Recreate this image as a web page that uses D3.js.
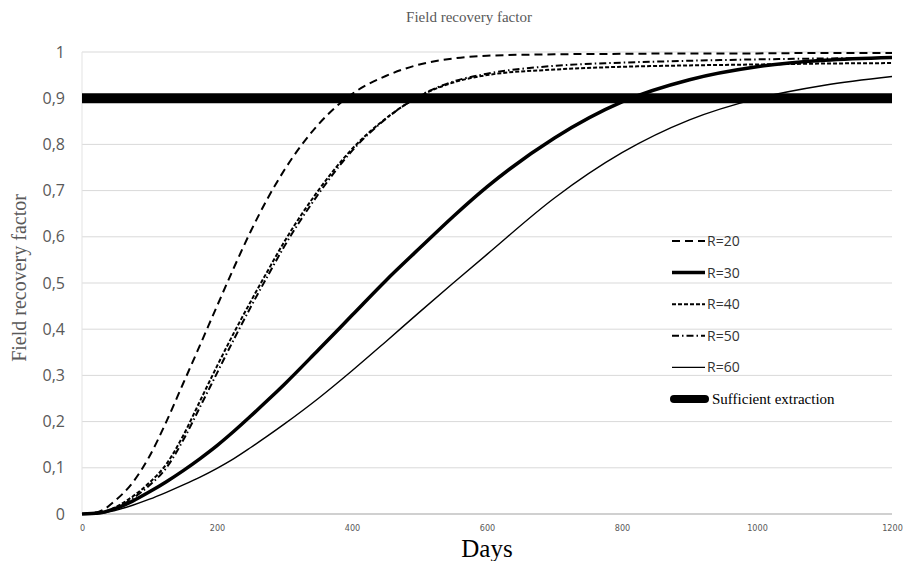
<!DOCTYPE html>
<meta charset="utf-8">
<style>
body { margin: 0; background: #fff; }
.grid line { stroke: #d9d9d9; stroke-width: 1; }
.tick text { fill: #595959; }
.curve { fill: none; stroke: #000; }
</style>
<body>
<svg width="904" height="561"></svg>
<script src="https://d3js.org/d3.v7.min.js"></script>
<script>
// values
var days = [0, 25, 50, 75, 100, 125, 150, 175, 200, 225, 250, 275, 300, 350, 400, 450, 500, 550, 600, 700, 800, 900, 1000, 1100, 1200];
var r20 = [0, 0.005, 0.03, 0.068, 0.125, 0.2, 0.283, 0.366, 0.45, 0.533, 0.612, 0.683, 0.745, 0.843, 0.909, 0.948, 0.973, 0.986, 0.992, 0.995, 0.996, 0.997, 0.997, 0.998, 0.998];
var r30 = [0, 0.002, 0.012, 0.028, 0.048, 0.07, 0.094, 0.12, 0.148, 0.179, 0.212, 0.246, 0.281, 0.355, 0.43, 0.505, 0.575, 0.644, 0.708, 0.814, 0.892, 0.94, 0.968, 0.982, 0.988];
var r40 = [0, 0.002, 0.015, 0.038, 0.068, 0.108, 0.17, 0.245, 0.32, 0.392, 0.46, 0.526, 0.59, 0.7, 0.79, 0.856, 0.904, 0.934, 0.95, 0.962, 0.968, 0.971, 0.973, 0.975, 0.976];
var r50 = [0, 0.002, 0.013, 0.034, 0.062, 0.1, 0.16, 0.232, 0.305, 0.378, 0.448, 0.515, 0.58, 0.692, 0.786, 0.855, 0.905, 0.936, 0.953, 0.97, 0.977, 0.981, 0.984, 0.986, 0.987];
var r60 = [0, 0.001, 0.008, 0.019, 0.032, 0.047, 0.063, 0.08, 0.099, 0.12, 0.144, 0.169, 0.195, 0.25, 0.31, 0.373, 0.437, 0.5, 0.562, 0.684, 0.782, 0.853, 0.899, 0.928, 0.947];
var threshold = 0.9;
var seriesNames = ["R=20", "R=30", "R=40", "R=50", "R=60"];
var yTicks = [0, 0.1, 0.2, 0.3, 0.4, 0.5, 0.6, 0.7, 0.8, 0.9, 1];
var xTicks = [0, 200, 400, 600, 800, 1000, 1200];

var styles = {
  "R=20": {w: 2, dash: "8,5"},
  "R=30": {w: 3.5, dash: null},
  "R=40": {w: 2, dash: "4,2"},
  "R=50": {w: 2, dash: "7,3,1.5,3"},
  "R=60": {w: 1.4, dash: null}
};

var svg = d3.select("svg"),
    margin = {top: 52, right: 12, bottom: 47, left: 82},
    width = 892 - margin.left,
    height = 514 - margin.top,
    g = svg.append("g").attr("transform", "translate(" + margin.left + "," + margin.top + ")");

var x = d3.scaleLinear().domain([0, 1200]).range([0, width]),
    y = d3.scaleLinear().domain([0, 1]).range([height, 0]);

var series = [r20, r30, r40, r50, r60].map(function(vals, i) {
  return {id: seriesNames[i], values: days.map(function(d, j) { return {day: d, v: vals[j]}; })};
});

// gridlines
g.append("g").attr("class", "grid")
  .selectAll("line").data(yTicks.slice(1)).enter().append("line")
    .attr("x1", 0).attr("x2", width)
    .attr("y1", function(d) { return y(d); }).attr("y2", function(d) { return y(d); });

g.append("line").attr("x1", 0).attr("x2", 0).attr("y1", 0).attr("y2", height)
  .attr("stroke", "#e3e3e3");
g.append("line").attr("x1", 0).attr("x2", width).attr("y1", height).attr("y2", height)
  .attr("stroke", "#d0d0d0").attr("stroke-width", 2);

// axes
var yAxis = g.append("g")
    .call(d3.axisLeft(y).tickValues(yTicks).tickSize(0).tickPadding(17)
      .tickFormat(function(d) { return d3.format(".1~f")(d).replace(".", ","); }));
yAxis.select(".domain").remove();
yAxis.selectAll("text").style("font", "16px 'Open Sans', sans-serif").attr("fill", "#595959");

var xAxis = g.append("g").attr("transform", "translate(0," + height + ")")
    .call(d3.axisBottom(x).tickValues(xTicks).tickSize(0).tickPadding(11).tickFormat(d3.format("d")));
xAxis.select(".domain").remove();
xAxis.selectAll("text").style("font", "9px 'DejaVu Sans Condensed', sans-serif").attr("fill", "#595959");

var line = d3.line()
    .curve(d3.curveMonotoneX)
    .x(function(d) { return x(d.day); })
    .y(function(d) { return y(d.v); });

g.selectAll(".curve").data(series).enter().append("path")
    .attr("class", "curve")
    .attr("d", function(d) { return line(d.values); })
    .attr("stroke-width", function(d) { return styles[d.id].w; })
    .attr("stroke-dasharray", function(d) { return styles[d.id].dash; });

// sufficient extraction
g.append("line")
    .attr("x1", x(0)).attr("x2", x(1200))
    .attr("y1", y(threshold)).attr("y2", y(threshold))
    .attr("stroke", "#000").attr("stroke-width", 10);

// legend
var legend = svg.append("g").attr("transform", "translate(672,241)");
var items = seriesNames.concat(["Sufficient extraction"]);
items.forEach(function(name, i) {
  var last = name === "Sufficient extraction";
  var row = legend.append("g").attr("transform", "translate(0," + (i * 31.6) + ")");
  var st = styles[name] || {w: 8, dash: null};
  row.append("line").attr("x1", last ? 2 : 0).attr("x2", 33).attr("y1", 0).attr("y2", 0)
    .attr("stroke", "#000").attr("stroke-width", st.w)
    .attr("stroke-dasharray", st.dash)
    .attr("stroke-linecap", last ? "round" : "butt");
  row.append("text").attr("x", last ? 40 : 35).attr("y", 0).attr("dy", "0.35em")
    .style("font", last ? "15px 'Liberation Serif', serif" : "14px 'Open Sans', sans-serif")
    .attr("fill", last ? "#000" : "#333")
    .text(name);
});

// titles
svg.append("text").attr("x", 469).attr("y", 22).attr("text-anchor", "middle")
  .style("font", "15px 'Liberation Serif', serif").attr("fill", "#595959")
  .text("Field recovery factor");

svg.append("text").attr("transform", "translate(26,278) rotate(-90)").attr("text-anchor", "middle")
  .style("font", "20px 'Liberation Serif', serif").attr("fill", "#595959")
  .text("Field recovery factor");

svg.append("text").attr("x", 487).attr("y", 557).attr("text-anchor", "middle")
  .style("font", "25px 'Liberation Serif', serif").attr("fill", "#000")
  .text("Days");
</script>
</body>
